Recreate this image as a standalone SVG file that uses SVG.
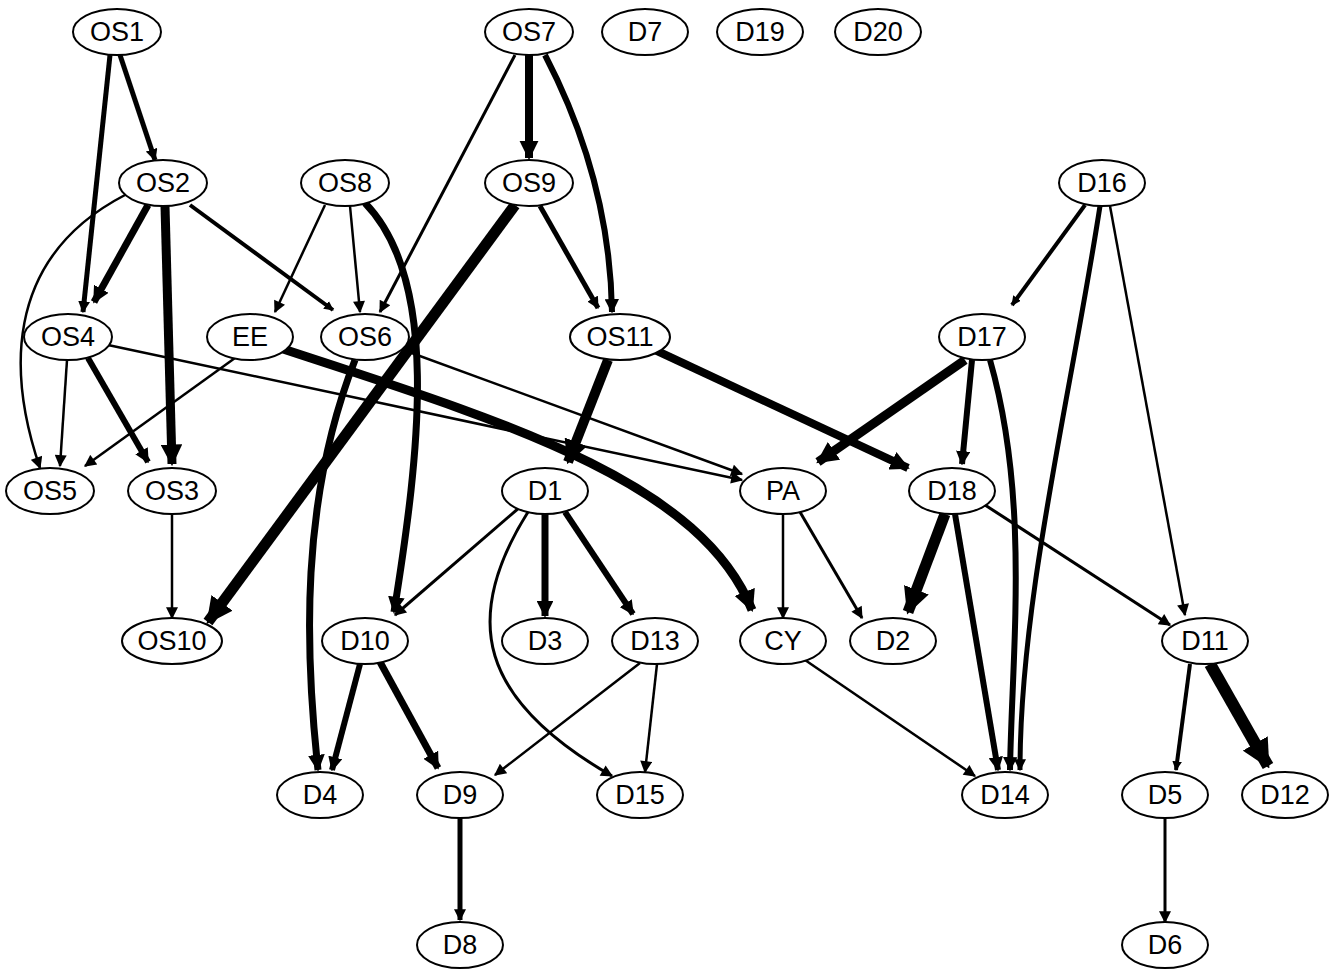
<svg xmlns="http://www.w3.org/2000/svg" width="1333" height="978" viewBox="0 0 1333 978">
<style>
.n ellipse{fill:#fff;stroke:#000;stroke-width:2}
.n text{font-family:"Liberation Sans",Arial,sans-serif;font-size:27px;text-anchor:middle;dominant-baseline:central}
.e path{fill:none;stroke:#000;stroke-linecap:butt}
.k{marker-end:url(#a)}
.t{marker-end:url(#s);stroke-width:2.5px}
</style>
<defs>
<marker id="a" viewBox="0 0 10 10" refX="9" refY="5" markerWidth="2.4" markerHeight="2.4" markerUnits="strokeWidth" orient="auto"><path d="M0,0 L10,5 L0,10 z" fill="#000"/></marker>
<marker id="s" viewBox="0 0 10 10" refX="9" refY="5" markerWidth="14" markerHeight="12" markerUnits="userSpaceOnUse" orient="auto"><path d="M0,0 L10,5 L0,10 z" fill="#000"/></marker>
</defs>
<g class="e" id="edges">
<path class="k" style="stroke-width:5" d="M120,55 L155,160"/>
<path class="k" style="stroke-width:5" d="M110,55 L83,312"/>
<path class="k" style="stroke-width:8" d="M529,55 L529,158"/>
<path class="k" style="stroke-width:6" d="M545,55 Q610,180 612,312"/>
<path class="t" style="stroke-width:3" d="M515,55 L380,312"/>
<path class="k" style="stroke-width:7" d="M148,205 L94,302"/>
<path class="k" style="stroke-width:9" d="M165,206 L172,464"/>
<path class="t" d="M125,195 C0,260 10,380 40,468"/>
<path class="k" style="stroke-width:4" d="M190,205 L333,310"/>
<path class="t" d="M325,205 L275,312"/>
<path class="t" d="M350,206 L360,312"/>
<path class="k" style="stroke-width:7" d="M365,203 C440,280 420,450 394,612"/>
<path class="k" style="stroke-width:5" d="M540,206 L598,308"/>
<path class="k" style="stroke-width:11" d="M515,205 L208,622"/>
<path class="k" style="stroke-width:4" d="M1085,205 L1012,305"/>
<path class="k" style="stroke-width:5" d="M1100,206 C1070,400 1020,600 1020,770"/>
<path class="k" style="stroke-width:6" d="M990,360 C1030,500 1012,650 1010,770"/>
<path class="t" d="M1110,206 L1185,615"/>
<path class="t" d="M67,360 L60,466"/>
<path class="k" style="stroke-width:6" d="M88,358 L148,462"/>
<path class="t" d="M108,345 L742,480"/>
<path class="t" d="M235,358 L85,466"/>
<path class="k" style="stroke-width:9" d="M280,348 C500,420 700,480 752,610"/>
<path class="k" style="stroke-width:7" d="M355,360 C300,500 305,650 318,770"/>
<path class="t" d="M398,348 L742,474"/>
<path class="k" style="stroke-width:10" d="M608,360 L568,462"/>
<path class="k" style="stroke-width:8" d="M655,350 L908,468"/>
<path class="k" style="stroke-width:9" d="M965,360 L818,462"/>
<path class="k" style="stroke-width:6" d="M972,360 L962,464"/>
<path class="t" d="M172,514 L172,618"/>
<path class="t" style="stroke-width:3" d="M520,507 L395,615"/>
<path class="k" style="stroke-width:7" d="M545,514 L545,616"/>
<path class="k" style="stroke-width:6" d="M565,512 L633,614"/>
<path class="t" style="stroke-width:3" d="M528,512 C460,620 480,700 612,776"/>
<path class="t" d="M783,514 L783,618"/>
<path class="t" style="stroke-width:3" d="M800,512 L862,618"/>
<path class="k" style="stroke-width:11" d="M945,514 L908,612"/>
<path class="k" style="stroke-width:6" d="M955,514 L998,770"/>
<path class="t" style="stroke-width:3" d="M985,505 L1170,625"/>
<path class="k" style="stroke-width:6" d="M360,664 L332,770"/>
<path class="k" style="stroke-width:7" d="M380,662 L438,768"/>
<path class="t" d="M640,663 L495,775"/>
<path class="t" d="M657,664 L645,772"/>
<path class="t" d="M805,660 L975,776"/>
<path class="k" style="stroke-width:4" d="M1190,664 L1176,770"/>
<path class="k" style="stroke-width:12" d="M1210,664 L1268,766"/>
<path class="k" style="stroke-width:5" d="M460,818 L460,920"/>
<path class="t" style="stroke-width:3" d="M1165,818 L1165,922"/>
</g>
<g class="n" id="OS1"><ellipse cx="117" cy="32" rx="44" ry="23"/><text x="117" y="32">OS1</text></g>
<g class="n" id="OS7"><ellipse cx="529" cy="32" rx="44" ry="23"/><text x="529" y="32">OS7</text></g>
<g class="n" id="D7"><ellipse cx="645" cy="32" rx="43" ry="23"/><text x="645" y="32">D7</text></g>
<g class="n" id="D19"><ellipse cx="760" cy="32" rx="43" ry="23"/><text x="760" y="32">D19</text></g>
<g class="n" id="D20"><ellipse cx="878" cy="32" rx="43" ry="23"/><text x="878" y="32">D20</text></g>
<g class="n" id="OS2"><ellipse cx="163" cy="183" rx="44" ry="23"/><text x="163" y="183">OS2</text></g>
<g class="n" id="OS8"><ellipse cx="345" cy="183" rx="44" ry="23"/><text x="345" y="183">OS8</text></g>
<g class="n" id="OS9"><ellipse cx="529" cy="183" rx="44" ry="23"/><text x="529" y="183">OS9</text></g>
<g class="n" id="D16"><ellipse cx="1102" cy="183" rx="43" ry="23"/><text x="1102" y="183">D16</text></g>
<g class="n" id="OS4"><ellipse cx="68" cy="337" rx="44" ry="23"/><text x="68" y="337">OS4</text></g>
<g class="n" id="EE"><ellipse cx="250" cy="337" rx="43" ry="23"/><text x="250" y="337">EE</text></g>
<g class="n" id="OS6"><ellipse cx="365" cy="337" rx="44" ry="23"/><text x="365" y="337">OS6</text></g>
<g class="n" id="OS11"><ellipse cx="620" cy="337" rx="50" ry="23"/><text x="620" y="337">OS11</text></g>
<g class="n" id="D17"><ellipse cx="982" cy="337" rx="43" ry="23"/><text x="982" y="337">D17</text></g>
<g class="n" id="OS5"><ellipse cx="50" cy="491" rx="44" ry="23"/><text x="50" y="491">OS5</text></g>
<g class="n" id="OS3"><ellipse cx="172" cy="491" rx="44" ry="23"/><text x="172" y="491">OS3</text></g>
<g class="n" id="D1"><ellipse cx="545" cy="491" rx="43" ry="23"/><text x="545" y="491">D1</text></g>
<g class="n" id="PA"><ellipse cx="783" cy="491" rx="43" ry="23"/><text x="783" y="491">PA</text></g>
<g class="n" id="D18"><ellipse cx="952" cy="491" rx="43" ry="23"/><text x="952" y="491">D18</text></g>
<g class="n" id="OS10"><ellipse cx="172" cy="641" rx="50" ry="23"/><text x="172" y="641">OS10</text></g>
<g class="n" id="D10"><ellipse cx="365" cy="641" rx="43" ry="23"/><text x="365" y="641">D10</text></g>
<g class="n" id="D3"><ellipse cx="545" cy="641" rx="43" ry="23"/><text x="545" y="641">D3</text></g>
<g class="n" id="D13"><ellipse cx="655" cy="641" rx="43" ry="23"/><text x="655" y="641">D13</text></g>
<g class="n" id="CY"><ellipse cx="783" cy="641" rx="43" ry="23"/><text x="783" y="641">CY</text></g>
<g class="n" id="D2"><ellipse cx="893" cy="641" rx="43" ry="23"/><text x="893" y="641">D2</text></g>
<g class="n" id="D11"><ellipse cx="1205" cy="641" rx="43" ry="23"/><text x="1205" y="641">D11</text></g>
<g class="n" id="D4"><ellipse cx="320" cy="795" rx="43" ry="23"/><text x="320" y="795">D4</text></g>
<g class="n" id="D9"><ellipse cx="460" cy="795" rx="43" ry="23"/><text x="460" y="795">D9</text></g>
<g class="n" id="D15"><ellipse cx="640" cy="795" rx="43" ry="23"/><text x="640" y="795">D15</text></g>
<g class="n" id="D14"><ellipse cx="1005" cy="795" rx="43" ry="23"/><text x="1005" y="795">D14</text></g>
<g class="n" id="D5"><ellipse cx="1165" cy="795" rx="43" ry="23"/><text x="1165" y="795">D5</text></g>
<g class="n" id="D12"><ellipse cx="1285" cy="795" rx="43" ry="23"/><text x="1285" y="795">D12</text></g>
<g class="n" id="D8"><ellipse cx="460" cy="945" rx="43" ry="23"/><text x="460" y="945">D8</text></g>
<g class="n" id="D6"><ellipse cx="1165" cy="945" rx="43" ry="23"/><text x="1165" y="945">D6</text></g>
</svg>
